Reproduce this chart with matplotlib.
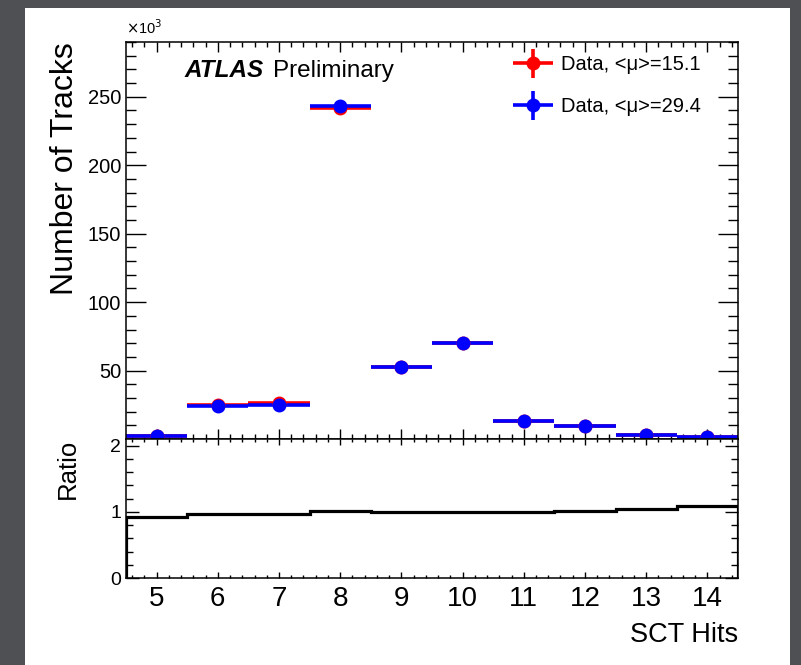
import matplotlib
matplotlib.use("Agg")
import matplotlib.pyplot as plt
import numpy as np
from matplotlib.patches import Rectangle
from matplotlib.container import ErrorbarContainer
from matplotlib.legend_handler import HandlerErrorbar
from matplotlib.ticker import MultipleLocator

plt.rcParams['font.family'] = ['Liberation Sans', 'DejaVu Sans']

# SCT hits per track, number of tracks in units of 10^3
sct_hits = [5, 6, 7, 8, 9, 10, 11, 12, 13, 14]
tracks_mu15 = [2.0, 24.6, 26.0, 242.0, 52.8, 70.3, 13.2, 9.2, 2.8, 1.5]
tracks_mu29 = [2.0, 24.3, 25.0, 243.5, 52.8, 70.4, 13.2, 9.3, 2.8, 1.6]
ratio = [0.92, 0.97, 0.97, 1.01, 0.99, 1.00, 1.00, 1.01, 1.04, 1.09]
y_ticks = [50, 100, 150, 200, 250]

label_mu15 = 'Data, <μ>=15.1'
label_mu29 = 'Data, <μ>=29.4'

fig = plt.figure(figsize=(8.01, 6.65), dpi=100)
fig.patch.set_facecolor('#4e5054')
# white slide panel behind the plot
fig.patches.append(Rectangle((25 / 801, 0), 765 / 801, 1 - 8 / 665,
                             transform=fig.transFigure, facecolor='white',
                             edgecolor='none', zorder=-10))

ax = fig.add_axes([0.1573, 0.3398, 0.764, 0.597])
axr = fig.add_axes([0.1573, 0.1308, 0.764, 0.209], sharex=ax)
ax.set_zorder(1)
axr.set_zorder(1)

x = np.array(sct_hits)
edges = np.append(x - 0.5, x[-1] + 0.5)

ax.errorbar(x, tracks_mu15, xerr=0.5, yerr=0, fmt='o', color='red', ms=9,
            elinewidth=2.6, capsize=0, label=label_mu15)
ax.errorbar(x, tracks_mu29, xerr=0.5, yerr=0, fmt='o', color='blue', ms=9,
            elinewidth=2.6, capsize=0, label=label_mu29)

ax.set_xlim(4.5, 14.5)
ax.set_ylim(0, 290)
ax.set_yticks(y_ticks)
ax.yaxis.set_minor_locator(MultipleLocator(10))
ax.xaxis.set_major_locator(MultipleLocator(1))
ax.xaxis.set_minor_locator(MultipleLocator(0.2))
ax.tick_params(which='both', direction='in', top=True, right=True, width=1)
ax.tick_params(axis='y', which='major', length=14.4, labelsize=14.5)
ax.tick_params(axis='y', which='minor', length=7.2)
ax.tick_params(axis='x', which='major', length=7)
ax.tick_params(axis='x', which='minor', length=3.6)
ax.tick_params(axis='x', labelbottom=False)
ax.set_ylabel('Number of Tracks', fontsize=23, loc='top')
ax.yaxis.set_label_coords(-0.075, 1.0)
ax.text(0.0, 1.012, r'$\times$10$^{3}$', transform=ax.transAxes, fontsize=10.5,
        ha='left', va='bottom')

ax.text(0.096, 0.913, 'ATLAS', transform=ax.transAxes, fontsize=17.5,
        fontweight='bold', fontstyle='italic', va='baseline')
ax.text(0.240, 0.913, 'Preliminary', transform=ax.transAxes, fontsize=17.5,
        va='baseline')

ax.legend(loc='upper left', bbox_to_anchor=(0.632, 0.967), frameon=False,
          fontsize=14.5, borderpad=0, borderaxespad=0, handlelength=2.0,
          handletextpad=0.4, labelspacing=1.15,
          handler_map={ErrorbarContainer: HandlerErrorbar(xerr_size=1.0, yerr_size=0.72)})

axr.stairs(ratio, edges, color='black', linewidth=2.3)
axr.set_ylim(0, 2.1)
axr.yaxis.set_major_locator(MultipleLocator(1))
axr.yaxis.set_minor_locator(MultipleLocator(0.2))
axr.tick_params(which='both', direction='in', top=True, right=True, width=1)
axr.tick_params(axis='y', which='major', length=9.4, labelsize=14)
axr.tick_params(axis='y', which='minor', length=5)
axr.tick_params(axis='x', which='major', length=4.5, labelsize=20, pad=6)
axr.tick_params(axis='x', which='minor', length=2.5)
axr.set_ylabel('Ratio', fontsize=18.5, loc='top')
axr.yaxis.set_label_coords(-0.075, 1.0)
axr.set_xlabel('SCT Hits', fontsize=19.5, loc='right')
axr.xaxis.set_label_coords(1.0, -0.315)

for a in (ax, axr):
    for s in a.spines.values():
        s.set_linewidth(1.1)

fig.savefig('out.png', dpi=100, facecolor=fig.get_facecolor())
